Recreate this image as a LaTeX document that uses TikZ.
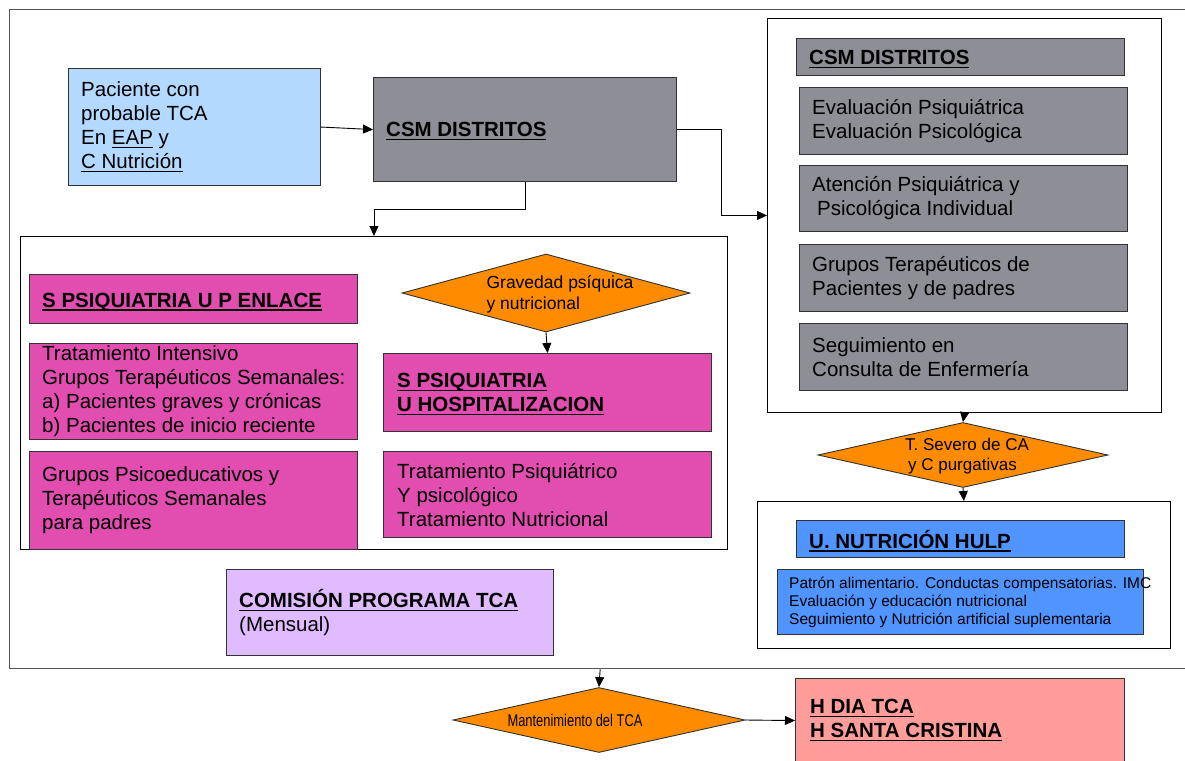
\documentclass[tikz,border=0pt]{standalone}
\usepackage{fontspec}
\setmainfont{Liberation Sans}
\usetikzlibrary{arrows.meta,shapes.geometric,calc}
\definecolor{cgray}{RGB}{142,142,150}
\definecolor{cmag}{RGB}{226,77,176}
\definecolor{corange}{RGB}{255,140,0}
\definecolor{clblue}{RGB}{179,217,255}
\definecolor{cblue}{RGB}{79,148,255}
\definecolor{cpurple}{RGB}{224,187,255}
\definecolor{csalmon}{RGB}{255,157,155}
\definecolor{cbord}{RGB}{50,50,50}
\definecolor{cframe}{RGB}{85,85,85}
\newcommand\fsmain{\fontsize{20.5}{24}\selectfont}
\newcommand\myul[1]{\setbox0\hbox{#1}\rlap{\rule[-3.5pt]{\wd0}{1.4pt}}\box0\relax}
\newcommand\ulb[1]{\myul{\textbf{#1}}}
\begin{document}
\begin{tikzpicture}[x=1pt,y=-1pt,
  box/.style={draw=cbord, line width=1.1pt, inner sep=0pt, anchor=north west},
  cont/.style={draw=black, line width=0.9pt, fill=white, inner sep=0pt, anchor=north west},
  txt/.style={anchor=west, align=left, inner sep=0pt, font=\fsmain},
  dia/.style={diamond, draw=cbord, line width=0.9pt, fill=corange, inner sep=0pt},
  conn/.style={draw=black, line width=0.9pt, -{Triangle[length=10pt,width=9pt]}}]
\clip (0,0) rectangle (1185,760);
\fill[white] (0,0) rectangle (1185,760);
% outer frame
\node[draw=cframe, line width=1.3pt, inner sep=0pt, anchor=north west, minimum width=1181pt, minimum height=659pt] (frame) at (9,9) {};
% containers
\node[cont, minimum width=707pt, minimum height=313pt] (lbox) at (20,236) {};
\node[cont, minimum width=394pt, minimum height=394pt] (rbox) at (767,18) {};
\node[cont, minimum width=413pt, minimum height=147pt] (nbox) at (757,501) {};
% top-left
\node[box, fill=clblue, minimum width=252pt, minimum height=117pt] (pac) at (68,68) {};
\node[txt] (pact) at ([xshift=13pt]pac.west) {Paciente con\\probable TCA\\En \myul{EAP} y\\\myul{C Nutrición}};
\node[box, fill=cgray, minimum width=303pt, minimum height=104pt] (csm) at (373,77) {};
\node[txt] (csmt) at ([xshift=13pt,yshift=-2pt]csm.west) {\ulb{CSM DISTRITOS}};
% left column
\node[box, fill=cmag, minimum width=328pt, minimum height=49pt] (enl) at (29,274) {};
\node[txt] (enlt) at ([xshift=13pt,yshift=-3pt]enl.west) {\ulb{S PSIQUIATRIA U P ENLACE}};
\node[box, fill=cmag, minimum width=328pt, minimum height=96pt] (inten) at (29,343) {};
\node[txt] (intent) at ([xshift=13pt]inten.west) {Tratamiento Intensivo\\Grupos Terapéuticos Semanales:\\a) Pacientes graves y crónicas\\b) Pacientes de inicio reciente};
\node[box, fill=cmag, minimum width=328pt, minimum height=98pt] (psed) at (29,451) {};
\node[txt] (psedt) at ([xshift=13pt]psed.west) {Grupos Psicoeducativos y\\Terapéuticos Semanales\\para padres};
% middle column
\node[dia, minimum width=288pt, minimum height=78pt] (d1) at (546,293) {};
\node[align=left, inner sep=0pt, font=\fontsize{17.5}{21}\selectfont] (d1t) at (560,294) {Gravedad psíquica\\y nutricional};
\node[box, fill=cmag, minimum width=328pt, minimum height=78pt] (hosp) at (383,353) {};
\node[txt] (hospt) at ([xshift=14pt,yshift=-2pt]hosp.west) {\ulb{S PSIQUIATRIA}\\\ulb{U HOSPITALIZACION}};
\node[box, fill=cmag, minimum width=328pt, minimum height=86pt] (trat) at (383,451) {};
\node[txt] (tratt) at ([xshift=14pt]trat.west) {Tratamiento Psiquiátrico\\Y psicológico\\Tratamiento Nutricional};
% right column
\node[box, fill=cgray, minimum width=328pt, minimum height=37pt] (rcsm) at (796,38) {};
\node[txt] (rcsmt) at ([xshift=13pt,yshift=-2pt]rcsm.west) {\ulb{CSM DISTRITOS}};
\node[box, fill=cgray, minimum width=328pt, minimum height=67pt] (eval) at (799,87) {};
\node[txt] (evalt) at ([xshift=13pt]eval.west) {Evaluación Psiquiátrica\\Evaluación Psicológica};
\node[box, fill=cgray, minimum width=328pt, minimum height=66pt] (aten) at (799,165) {};
\node[txt] (atent) at ([xshift=13pt]aten.west) {Atención Psiquiátrica y\\\hspace{5pt}Psicológica Individual};
\node[box, fill=cgray, minimum width=328pt, minimum height=67pt] (grup) at (799,244) {};
\node[txt] (grupt) at ([xshift=13pt]grup.west) {Grupos Terapéuticos de\\Pacientes y de padres};
\node[box, fill=cgray, minimum width=328pt, minimum height=67pt] (segu) at (799,323) {};
\node[txt] (segut) at ([xshift=13pt]segu.west) {Seguimiento en\\Consulta de Enfermería};
\node[dia, minimum width=290pt, minimum height=65pt] (d2) at (963,455) {};
\node[align=left, inner sep=0pt, font=\fontsize{17}{20}\selectfont] (d2t) at (967,456) {T. Severo de CA\\\hspace{3pt}y C purgativas};
\node[box, fill=cblue, minimum width=328pt, minimum height=37pt] (nuth) at (796,520) {};
\node[txt] (nutht) at ([xshift=13pt,yshift=-2pt]nuth.west) {\ulb{U. NUTRICIÓN HULP}};
\node[box, fill=cblue, minimum width=366pt, minimum height=65pt] (patr) at (777,569) {};
\node[txt, font=\fontsize{15.5}{18}\selectfont] (patrt) at ([xshift=12pt]patr.west) {Patrón alimentario. Conductas compensatorias. IMC\\Evaluación y educación nutricional\\Seguimiento y Nutrición artificial suplementaria};
% comision
\node[box, fill=cpurple, minimum width=327pt, minimum height=86pt] (com) at (226,569) {};
\node[txt] (comt) at ([xshift=13pt]com.west) {\ulb{COMISIÓN PROGRAMA TCA}\\(Mensual)};
% bottom
\node[dia, minimum width=292pt, minimum height=65pt] (d3) at (599,720) {};
\node[inner sep=0pt, font=\fontsize{17}{20}\selectfont] (d3t) at (575,720) {\scalebox{0.76}[1]{Mantenimiento del TCA}};
\node[box, fill=csalmon, minimum width=329pt, minimum height=84pt] (hdia) at (795,678) {};
\node[txt] (hdiat) at ([xshift=15pt]hdia.west) {\ulb{H DIA TCA}\\\ulb{H SANTA CRISTINA}};
% connectors
\draw[conn] (pac.east) -- (csm.west);
\draw[conn] (csm.south) -- ++(0,27) -| (lbox.north);
\draw[conn] (csm.east) -- ++(44,0) |- (rbox.west);
\draw[conn] (d1.south) -- (hosp.north);
\draw[conn] (rbox.south) -- (d2.north);
\draw[conn] (d2.south) -- (nbox.north);
\draw[conn] (frame.south) -- (d3.north);
\draw[conn] (d3.east) -- (hdia.west);
\end{tikzpicture}
\end{document}
